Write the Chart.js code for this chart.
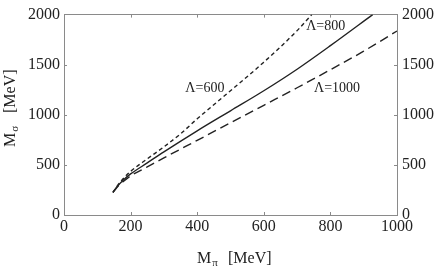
<!DOCTYPE html>
<html><head><meta charset="utf-8">
<script src="https://cdn.jsdelivr.net/npm/chart.js@4/dist/chart.umd.min.js"></script>
<style>html,body{margin:0;padding:0;background:#fff;}#wrap{width:436px;height:267px;}</style>
</head><body><div id="wrap"><canvas id="c" width="436" height="267"></canvas></div>
<script>
// Data (M_pi [MeV], M_sigma [MeV])
const curveNames = ['Λ=600', 'Λ=800', 'Λ=1000'];
const mpi600 = [147, 160, 180, 200, 250, 300, 350, 400, 500, 600, 700, 744];
const msig600 = [225, 290, 370, 435, 560, 680, 810, 960, 1240, 1525, 1840, 2000];
const mpi800 = [147, 160, 180, 200, 250, 300, 400, 500, 600, 700, 800, 927];
const msig800 = [225, 285, 355, 410, 520, 630, 840, 1040, 1240, 1455, 1690, 2000];
const mpi1000 = [147, 160, 180, 200, 250, 300, 400, 500, 600, 700, 800, 900, 1000];
const msig1000 = [225, 280, 340, 390, 480, 570, 745, 920, 1095, 1270, 1450, 1635, 1836];
const xTicks = [0, 200, 400, 600, 800, 1000];
const yTicks = [0, 500, 1000, 1500, 2000];
// label anchors in data units
const labelMpi = [423, 786, 820];
const labelMsig = [1266, 1880, 1260];

const serif = '"Liberation Serif", "Times New Roman", serif';
const ink = '#222';
const axisGray = '#8a8a8a';

function pts(xs, ys) { return xs.map((x, i) => ({x: x, y: ys[i]})); }

const textPlugin = {
  id: 'texts',
  afterDraw(chart) {
    const ctx = chart.ctx, xs = chart.scales.x, ys = chart.scales.y, a = chart.chartArea;
    ctx.save();
    // inward ticks
    ctx.strokeStyle = axisGray; ctx.lineWidth = 1;
    xTicks.slice(1, -1).forEach(v => {
      const px = Math.round(xs.getPixelForValue(v)) + 0.5;
      ctx.beginPath(); ctx.moveTo(px, a.bottom); ctx.lineTo(px, a.bottom - 3); ctx.stroke();
      ctx.beginPath(); ctx.moveTo(px, a.top); ctx.lineTo(px, a.top + 3); ctx.stroke();
    });
    yTicks.slice(1, -1).forEach(v => {
      const py = Math.round(ys.getPixelForValue(v)) + 0.5;
      ctx.beginPath(); ctx.moveTo(a.left, py); ctx.lineTo(a.left + 3, py); ctx.stroke();
      ctx.beginPath(); ctx.moveTo(a.right, py); ctx.lineTo(a.right - 3, py); ctx.stroke();
    });
    // curve labels
    ctx.fillStyle = ink;
    ctx.font = '14px ' + serif;
    ctx.textAlign = 'center'; ctx.textBaseline = 'middle';
    curveNames.forEach((t, i) => ctx.fillText(t, xs.getPixelForValue(labelMpi[i]), ys.getPixelForValue(labelMsig[i])));
    // x axis title  M_pi [MeV]
    ctx.textAlign = 'left'; ctx.textBaseline = 'alphabetic';
    let x0 = a.left + 133, yb = 263;
    ctx.font = '16px ' + serif; ctx.fillText('M', x0, yb);
    let w = ctx.measureText('M').width;
    ctx.font = '11px ' + serif; ctx.fillText('π', x0 + w + 1, yb + 3);
    ctx.font = '16px ' + serif; ctx.fillText('[MeV]', x0 + 31, yb);
    // y axis title  M_sigma [MeV]
    ctx.save();
    ctx.translate(15, 147); ctx.rotate(-Math.PI / 2);
    ctx.font = '16px ' + serif; ctx.fillText('M', 0, 0);
    w = ctx.measureText('M').width;
    ctx.font = '11px ' + serif; ctx.fillText('σ', w + 1, 3);
    ctx.font = '16px ' + serif; ctx.fillText('[MeV]', 34, 0);
    ctx.restore();
    ctx.restore();
  }
};

const lineBase = {showLine: true, pointRadius: 0, borderColor: ink, borderWidth: 1.4, fill: false, cubicInterpolationMode: 'monotone'};
const plain = v => String(v);

new Chart(document.getElementById('c'), {
  type: 'scatter',
  data: {
    datasets: [
      Object.assign({label: curveNames[0], data: pts(mpi600, msig600), borderDash: [4, 3]}, lineBase),
      Object.assign({label: curveNames[1], data: pts(mpi800, msig800)}, lineBase),
      Object.assign({label: curveNames[2], data: pts(mpi1000, msig1000), borderDash: [9, 5]}, lineBase)
    ]
  },
  options: {
    responsive: false, animation: false,
    layout: {padding: 0},
    plugins: {legend: {display: false}, tooltip: {enabled: false}},
    scales: {
      x: {
        type: 'linear', position: 'bottom', min: 0, max: 1000,
        afterBuildTicks: s => { s.ticks = xTicks.map(v => ({value: v})); },
        afterFit: s => { s.height = 52; },
        ticks: {font: {family: serif, size: 16}, color: ink, padding: 2, maxRotation: 0, callback: plain},
        grid: {drawOnChartArea: false, drawTicks: false},
        border: {color: axisGray, width: 1}
      },
      x2: {
        type: 'linear', position: 'top', min: 0, max: 1000,
        afterFit: s => { s.height = 8; },
        ticks: {display: false},
        grid: {drawOnChartArea: false, drawTicks: false},
        border: {color: axisGray, width: 1}
      },
      y: {
        type: 'linear', position: 'left', min: 0, max: 2000,
        afterBuildTicks: s => { s.ticks = yTicks.map(v => ({value: v})); },
        afterFit: s => { s.width = 64; },
        ticks: {font: {family: serif, size: 16}, color: ink, padding: 4, callback: plain},
        grid: {drawOnChartArea: false, drawTicks: false},
        border: {color: axisGray, width: 1}
      },
      y2: {
        type: 'linear', position: 'right', min: 0, max: 2000,
        afterBuildTicks: s => { s.ticks = yTicks.map(v => ({value: v})); },
        afterFit: s => { s.width = 39; },
        ticks: {font: {family: serif, size: 16}, color: ink, padding: 5, callback: plain},
        grid: {drawOnChartArea: false, drawTicks: false},
        border: {color: axisGray, width: 1}
      }
    }
  },
  plugins: [textPlugin]
});
</script></body></html>
